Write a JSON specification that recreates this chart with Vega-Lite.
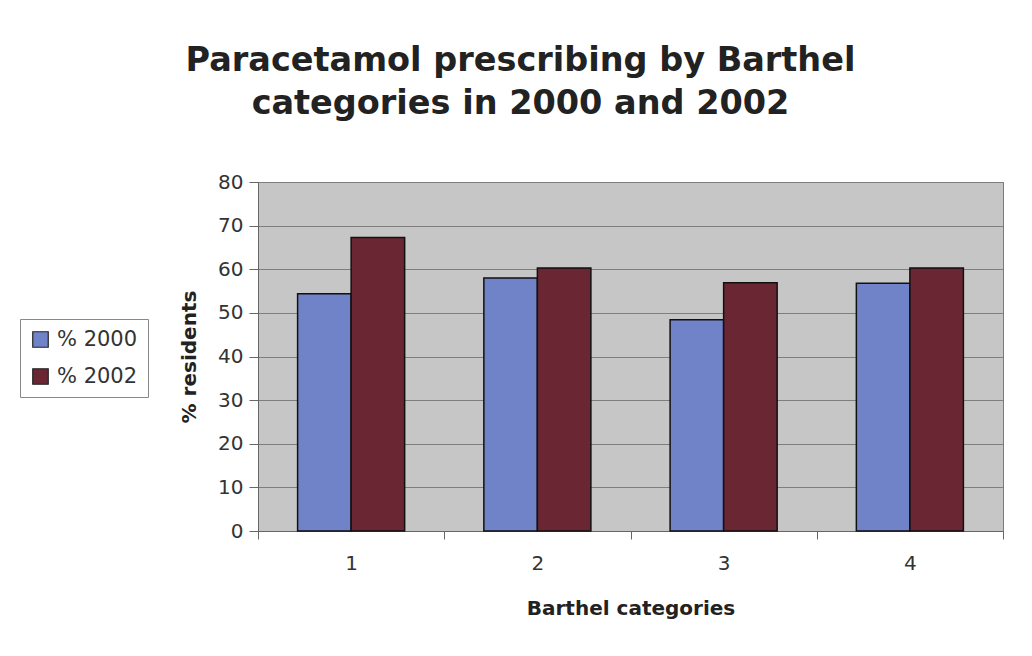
{
  "$schema": "https://vega.github.io/schema/vega-lite/v6.json",
  "autosize": {"type": "none"},
  "padding": {"left": 258, "top": 182, "right": 29, "bottom": 125},
  "width": 745,
  "height": 349,
  "background": "white",
  "title": {
    "text": ["Paracetamol prescribing by Barthel", "categories in 2000 and 2002"],
    "anchor": "middle",
    "dx": -110,
    "offset": 51,
    "font": "DejaVu Sans",
    "fontSize": 33.5,
    "fontWeight": "bold",
    "lineHeight": 43,
    "color": "#222222"
  },
  "config": {
    "font": "DejaVu Sans",
    "view": {"fill": "#c6c6c6", "stroke": "#7a7a7a", "strokeWidth": 1}
  },
  "data": {
    "values": [
      {"cat": "1", "series": "% 2000", "value": 54.4},
      {"cat": "1", "series": "% 2002", "value": 67.3},
      {"cat": "2", "series": "% 2000", "value": 58.0},
      {"cat": "2", "series": "% 2002", "value": 60.3},
      {"cat": "3", "series": "% 2000", "value": 48.4},
      {"cat": "3", "series": "% 2002", "value": 56.9},
      {"cat": "4", "series": "% 2000", "value": 56.8},
      {"cat": "4", "series": "% 2002", "value": 60.3}
    ]
  },
  "mark": {"type": "bar", "stroke": "#111111", "strokeWidth": 1.5},
  "encoding": {
    "x": {
      "field": "cat",
      "type": "nominal",
      "scale": {"paddingInner": 0, "paddingOuter": 0},
      "axis": {
        "title": "Barthel categories",
        "titleFontSize": 20,
        "titleFontWeight": "bold",
        "titleColor": "#222222",
        "titlePadding": 25,
        "labelAngle": 0,
        "labelFontSize": 20,
        "labelColor": "#333333",
        "labelPadding": 14,
        "tickBand": "extent",
        "tickSize": 8,
        "tickColor": "#666666",
        "domainColor": "#666666",
        "grid": false
      }
    },
    "xOffset": {
      "field": "series",
      "type": "nominal",
      "scale": {"paddingInner": 0, "paddingOuter": 0.74}
    },
    "y": {
      "field": "value",
      "type": "quantitative",
      "scale": {"domain": [0, 80], "nice": false},
      "axis": {
        "title": "% residents",
        "titleFontSize": 20,
        "titleFontWeight": "bold",
        "titleColor": "#222222",
        "titlePadding": 18,
        "values": [0, 10, 20, 30, 40, 50, 60, 70, 80],
        "labelFontSize": 20,
        "labelColor": "#333333",
        "labelPadding": 6,
        "tickSize": 9,
        "tickColor": "#666666",
        "domainColor": "#666666",
        "grid": true,
        "gridColor": "#7e7e7e",
        "gridWidth": 1
      }
    },
    "color": {
      "field": "series",
      "type": "nominal",
      "scale": {"domain": ["% 2000", "% 2002"], "range": ["#7183c8", "#6a2733"]},
      "legend": {
        "title": null,
        "orient": "none",
        "legendX": -238,
        "legendY": 137,
        "symbolType": "square",
        "symbolSize": 240,
        "symbolStrokeColor": "#222222",
        "symbolStrokeWidth": 1.2,
        "labelFontSize": 21,
        "labelColor": "#333333",
        "labelOffset": 6,
        "rowPadding": 15,
        "padding": 10,
        "strokeColor": "#888888",
        "fillColor": "white"
      }
    }
  }
}
